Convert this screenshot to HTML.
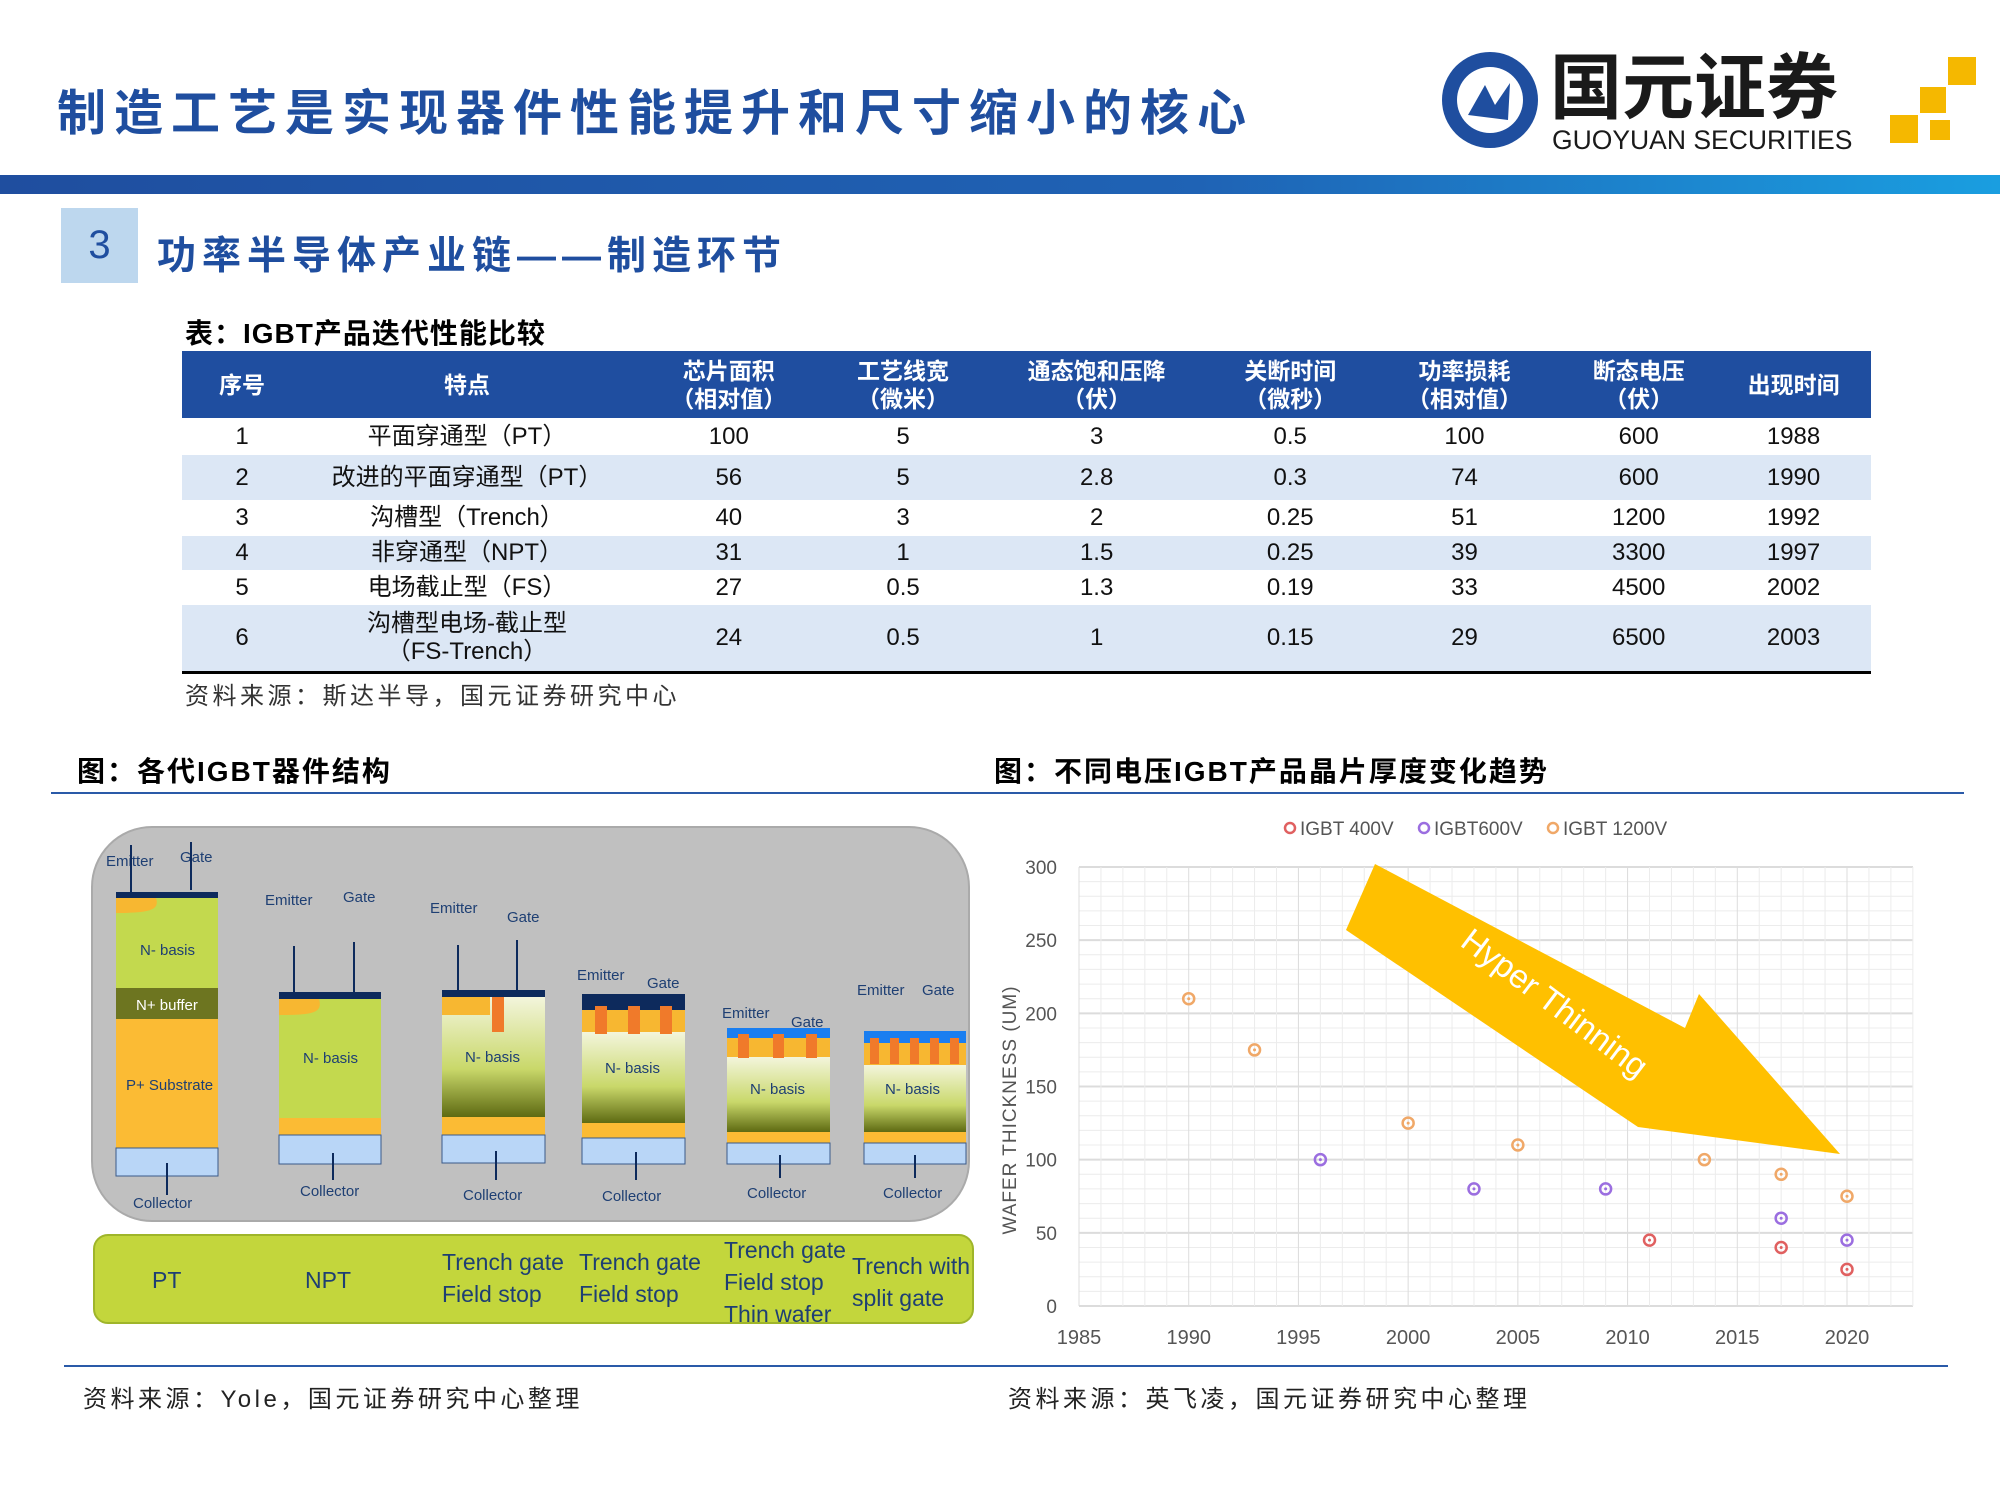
<!DOCTYPE html>
<html><head><meta charset="utf-8"><style>
body{margin:0;width:2000px;height:1500px;background:#fff;position:relative;overflow:hidden;font-family:"Liberation Sans","Noto Sans CJK SC",sans-serif}
.a{position:absolute;white-space:nowrap}
table{border-collapse:collapse;position:absolute;left:182px;top:351px;width:1689px;font-size:24px;color:#111}
td{text-align:center;padding:0;line-height:28px}
thead td{background:#1f4ea0;color:#fff;font-weight:bold;font-size:23px;height:67px}
.alt td{background:#dce7f5}
</style></head><body>
<div class="a" style="left:57px;top:74px;font-size:49px;font-weight:bold;color:#1f4e9f;letter-spacing:8px">制造工艺是实现器件性能提升和尺寸缩小的核心</div>
<svg class="a" style="left:1430px;top:45px" width="560" height="115">
<circle cx="60" cy="55" r="48" fill="#1f4e9f"/><circle cx="60" cy="55" r="33" fill="#fff"/>
<path d="M38 70 L55 40 L65 60 L80 38 L78 75 Z" fill="#1f4e9f"/>
<text x="120" y="68" font-size="72" font-weight="bold" fill="#1a1a1a" font-family="Noto Sans CJK SC,sans-serif">国元证券</text>
<text x="122" y="104" font-size="26.5" fill="#1a1a1a" font-family="Liberation Sans,sans-serif">GUOYUAN SECURITIES</text>
<rect x="460" y="70" width="28" height="28" fill="#f5b800"/><rect x="490" y="42" width="26" height="26" fill="#f5b800"/><rect x="518" y="12" width="28" height="28" fill="#f5b800"/><rect x="500" y="75" width="20" height="20" fill="#f5b800"/>
</svg>
<div class="a" style="left:0;top:175px;width:2000px;height:19px;background:linear-gradient(90deg,#1f4e9f,#1f63b5 60%,#1a9ee0)"></div>
<div class="a" style="left:61px;top:208px;width:77px;height:75px;background:#bdd7ee;color:#1f4e9f;font-size:40px;text-align:center;line-height:75px">3</div>
<div class="a" style="left:157px;top:225px;font-size:39px;font-weight:bold;color:#1f4e9f;letter-spacing:6px">功率半导体产业链——制造环节</div>
<div class="a" style="left:185px;top:312px;font-size:28px;font-weight:bold;letter-spacing:1px">表：IGBT产品迭代性能比较</div>
<table>
<thead><tr><td style="width:120px">序号</td><td style="width:330px">特点</td><td>芯片面积<br>（相对值）</td><td>工艺线宽<br>（微米）</td><td>通态饱和压降<br>（伏）</td><td>关断时间<br>（微秒）</td><td>功率损耗<br>（相对值）</td><td>断态电压<br>（伏）</td><td>出现时间</td></tr></thead>
<tbody>
<tr style="height:37px"><td>1</td><td>平面穿通型（PT）</td><td>100</td><td>5</td><td>3</td><td>0.5</td><td>100</td><td>600</td><td>1988</td></tr>
<tr class="alt" style="height:45px"><td>2</td><td>改进的平面穿通型（PT）</td><td>56</td><td>5</td><td>2.8</td><td>0.3</td><td>74</td><td>600</td><td>1990</td></tr>
<tr style="height:36px"><td>3</td><td>沟槽型（Trench）</td><td>40</td><td>3</td><td>2</td><td>0.25</td><td>51</td><td>1200</td><td>1992</td></tr>
<tr class="alt" style="height:34px"><td>4</td><td>非穿通型（NPT）</td><td>31</td><td>1</td><td>1.5</td><td>0.25</td><td>39</td><td>3300</td><td>1997</td></tr>
<tr style="height:35px"><td>5</td><td>电场截止型（FS）</td><td>27</td><td>0.5</td><td>1.3</td><td>0.19</td><td>33</td><td>4500</td><td>2002</td></tr>
<tr class="alt" style="height:67px;border-bottom:3px solid #000"><td>6</td><td>沟槽型电场-截止型<br>（FS-Trench）</td><td>24</td><td>0.5</td><td>1</td><td>0.15</td><td>29</td><td>6500</td><td>2003</td></tr>
</tbody></table>
<div class="a" style="left:185px;top:676px;font-size:24px;color:#333;letter-spacing:3.5px">资料来源：斯达半导，国元证券研究中心</div>
<div class="a" style="left:77px;top:750px;font-size:28px;font-weight:bold;letter-spacing:2px">图：各代IGBT器件结构</div>
<div class="a" style="left:994px;top:750px;font-size:28px;font-weight:bold;letter-spacing:2px">图：不同电压IGBT产品晶片厚度变化趋势</div>
<div class="a" style="left:51px;top:792px;width:1913px;height:2px;background:#2a5aa8"></div>
<div class="a" style="left:64px;top:1365px;width:1884px;height:2px;background:#2a5aa8"></div>
<div class="a" style="left:83px;top:1379px;font-size:24px;color:#222;letter-spacing:3.5px">资料来源：Yole，国元证券研究中心整理</div>
<div class="a" style="left:1008px;top:1379px;font-size:24px;color:#222;letter-spacing:3.5px">资料来源：英飞凌，国元证券研究中心整理</div>

<svg class="a" style="left:0;top:0" width="1000" height="1360" font-family="Liberation Sans,sans-serif">
<defs><linearGradient id="nb" x1="0" y1="0" x2="0" y2="1"><stop offset="0" stop-color="#f3f5dc"/><stop offset="0.6" stop-color="#c9d86a"/><stop offset="1" stop-color="#5e6a12"/></linearGradient></defs>
<rect x="92" y="827" width="877" height="394" rx="60" fill="#c0c0c0" stroke="#aaa" stroke-width="2"/>
<rect x="94" y="1235" width="879" height="88" rx="14" fill="#c3d63c" stroke="#9fb52a" stroke-width="2"/>
<g fill="#1e3f73" font-size="15">
<rect x="116" y="892" width="102" height="6" fill="#0d2a5c"/><rect x="116" y="898" width="102" height="90" fill="#c3d94e"/><path d="M116 898h40c4 12-6 15-40 15z" fill="#f7b731"/>
<rect x="116" y="988" width="102" height="31" fill="#6d7520"/><rect x="116" y="1019" width="102" height="129" fill="#fbbb34"/><rect x="116" y="1148" width="102" height="28" fill="#b9d6f7" stroke="#3a5a8a"/>
<text x="140" y="955">N- basis</text><text x="136" y="1010" fill="#fff">N+ buffer</text><text x="126" y="1090">P+ Substrate</text>
<text x="106" y="866">Emitter</text><text x="180" y="862">Gate</text><text x="133" y="1208">Collector</text>
<rect x="279" y="992" width="102" height="7" fill="#0d2a5c"/><rect x="279" y="999" width="102" height="119" fill="#c3d94e"/><path d="M279 999h40c4 14-6 16-40 16z" fill="#f7b731"/>
<rect x="279" y="1118" width="102" height="17" fill="#fbbb34"/><rect x="279" y="1135" width="102" height="29" fill="#b9d6f7" stroke="#3a5a8a"/>
<text x="303" y="1063">N- basis</text><text x="265" y="905">Emitter</text><text x="343" y="902">Gate</text><text x="300" y="1196">Collector</text>
<rect x="442" y="990" width="103" height="7" fill="#0d2a5c"/><rect x="442" y="997" width="103" height="120" fill="url(#nb)"/><rect x="442" y="997" width="48" height="18" fill="#f7b731"/><rect x="492" y="997" width="12" height="35" fill="#f07a2a"/>
<rect x="442" y="1117" width="103" height="18" fill="#fbbb34"/><rect x="442" y="1135" width="103" height="28" fill="#b9d6f7" stroke="#3a5a8a"/>
<text x="465" y="1062">N- basis</text><text x="430" y="913">Emitter</text><text x="507" y="922">Gate</text><text x="463" y="1200">Collector</text>
<rect x="582" y="994" width="103" height="16" fill="#0d2a5c"/><rect x="582" y="1010" width="103" height="22" fill="#f7b731"/><rect x="582" y="1032" width="103" height="91" fill="url(#nb)"/>
<rect x="595" y="1006" width="12" height="28" fill="#f07a2a"/><rect x="628" y="1006" width="12" height="28" fill="#f07a2a"/><rect x="660" y="1006" width="12" height="28" fill="#f07a2a"/>
<rect x="582" y="1123" width="103" height="15" fill="#fbbb34"/><rect x="582" y="1138" width="103" height="26" fill="#b9d6f7" stroke="#3a5a8a"/>
<text x="605" y="1073">N- basis</text><text x="577" y="980">Emitter</text><text x="647" y="988">Gate</text><text x="602" y="1201">Collector</text>
<rect x="727" y="1028" width="103" height="10" fill="#1a7ef0"/><rect x="727" y="1038" width="103" height="19" fill="#f7b731"/><rect x="727" y="1057" width="103" height="75" fill="url(#nb)"/>
<rect x="738" y="1034" width="11" height="24" fill="#f07a2a"/><rect x="773" y="1034" width="11" height="24" fill="#f07a2a"/><rect x="806" y="1034" width="11" height="24" fill="#f07a2a"/>
<rect x="727" y="1132" width="103" height="11" fill="#fbbb34"/><rect x="727" y="1143" width="103" height="21" fill="#b9d6f7" stroke="#3a5a8a"/>
<text x="750" y="1094">N- basis</text><text x="722" y="1018">Emitter</text><text x="791" y="1027">Gate</text><text x="747" y="1198">Collector</text>
<rect x="864" y="1031" width="102" height="12" fill="#1a7ef0"/><rect x="864" y="1043" width="102" height="22" fill="#f7b731"/><rect x="864" y="1065" width="102" height="67" fill="url(#nb)"/>
<rect x="870" y="1038" width="9" height="26" fill="#f07a2a"/><rect x="890" y="1038" width="9" height="26" fill="#f07a2a"/><rect x="910" y="1038" width="9" height="26" fill="#f07a2a"/><rect x="930" y="1038" width="9" height="26" fill="#f07a2a"/><rect x="950" y="1038" width="9" height="26" fill="#f07a2a"/>
<rect x="864" y="1132" width="102" height="11" fill="#fbbb34"/><rect x="864" y="1143" width="102" height="21" fill="#b9d6f7" stroke="#3a5a8a"/>
<text x="885" y="1094">N- basis</text><text x="857" y="995">Emitter</text><text x="922" y="995">Gate</text><text x="883" y="1198">Collector</text>
</g>
<g stroke="#0d2a5c" stroke-width="2" fill="#0d2a5c">
<line x1="131" y1="845" x2="131" y2="892"/><line x1="191" y1="842" x2="191" y2="890"/>
<line x1="294" y1="946" x2="294" y2="992"/><line x1="354" y1="942" x2="354" y2="992"/>
<line x1="458" y1="945" x2="458" y2="990"/><line x1="517" y1="940" x2="517" y2="990"/>
<line x1="167" y1="1163" x2="167" y2="1195"/><line x1="333" y1="1153" x2="333" y2="1180"/><line x1="496" y1="1151" x2="496" y2="1180"/><line x1="636" y1="1152" x2="636" y2="1180"/><line x1="780" y1="1155" x2="780" y2="1178"/><line x1="915" y1="1155" x2="915" y2="1178"/>
</g>
<g fill="#1e3f73" font-size="23">
<text x="152" y="1288">PT</text><text x="305" y="1288">NPT</text>
<text x="442" y="1270">Trench gate</text><text x="442" y="1302">Field stop</text>
<text x="579" y="1270">Trench gate</text><text x="579" y="1302">Field stop</text>
<text x="724" y="1258">Trench gate</text><text x="724" y="1290">Field stop</text><text x="724" y="1322">Thin wafer</text>
<text x="852" y="1274">Trench with</text><text x="852" y="1306">split gate</text>
</g>
</svg>

<svg id="chart" class="a" style="left:0;top:0" width="2000" height="1500" font-family="Liberation Sans,sans-serif"></svg>
<script>
const xTicks=[1985,1990,1995,2000,2005,2010,2015,2020];
const yTicks=[0,50,100,150,200,250,300];
const seriesNames=["IGBT 400V","IGBT600V","IGBT 1200V"];
const seriesColors=["#e06060","#9b6ee0","#f0a868"];
const x400=[2011,2017,2020];const y400=[45,40,25];
const x600=[1996,2003,2009,2017,2020];const y600=[100,80,80,60,45];
const x1200=[1990,1993,2000,2005,2013.5,2017,2020];const y1200=[210,175,125,110,100,90,75];
const svg=document.getElementById('chart');const NS='http://www.w3.org/2000/svg';
const L=1079,R=1913,T=867,B=1306;
const xs=v=>L+(v-1985)/(2020-1985)*(1847-L);
const ys=v=>B-(v/300)*(B-T);
function mk(t,a,txt){const e=document.createElementNS(NS,t);for(const k in a)e.setAttribute(k,a[k]);if(txt!==undefined)e.textContent=txt;svg.appendChild(e);return e;}
for(let v=0;v<=300;v+=10){const g=mk('line',{x1:L,x2:R,y1:ys(v),y2:ys(v),stroke:v%50?'#ececec':'#dcdcdc','stroke-width':v%50?1:2});

}
for(let v=1985;v<=2023.5;v+=1){if(xs(v)>R)break;const g=mk('line',{x1:xs(v),x2:xs(v),y1:T,y2:B,stroke:v%5?'#ececec':'#dcdcdc','stroke-width':1});

}
yTicks.forEach(v=>{const t=mk('text',{x:L-22,y:ys(v)+7,'text-anchor':'end','font-size':19,fill:'#555'},v);

});
xTicks.forEach(v=>{const t=mk('text',{x:xs(v),y:1344,'text-anchor':'middle','font-size':20,fill:'#555'},v);

});
const yt=mk('text',{x:0,y:0,transform:'translate(1016,1110) rotate(-90)','text-anchor':'middle','font-size':19,fill:'#555','letter-spacing':'1'},'WAFER THICKNESS (UM)');


const arrow=mk('polygon',{points:'1375,864 1346,930 1638,1127 1840,1154 1699,994 1685,1028',fill:'#ffc000'});


const at=mk('text',{x:0,y:0,transform:'translate(1548,1012) rotate(37)','text-anchor':'middle','font-size':33,fill:'#fff'},'Hyper Thinning');


const sets=[[x400,y400],[x600,y600],[x1200,y1200]];
sets.forEach((s,i)=>{s[0].forEach((xv,j)=>{
const c=mk('circle',{cx:xs(xv),cy:ys(s[1][j]),r:5.5,fill:'none',stroke:seriesColors[i],'stroke-width':2.5});


mk('circle',{cx:xs(xv),cy:ys(s[1][j]),r:1.5,fill:seriesColors[i]});});});
const lx=[1290,1424,1553];
seriesNames.forEach((n,i)=>{const c=mk('circle',{cx:lx[i],cy:828,r:5,fill:'none',stroke:seriesColors[i],'stroke-width':2.5});


const t=mk('text',{x:lx[i]+10,y:835,'font-size':19,fill:'#555'},n);

});
</script>
</body></html>
